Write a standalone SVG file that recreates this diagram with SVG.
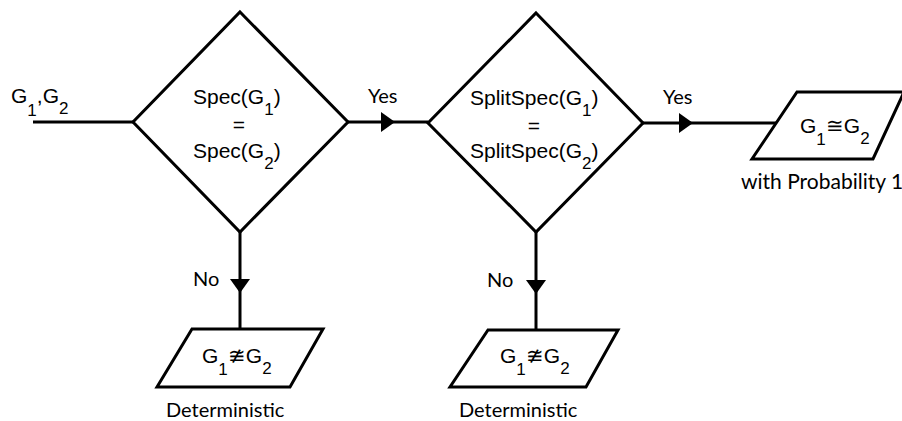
<svg xmlns="http://www.w3.org/2000/svg" width="902" height="421" viewBox="0 0 902 421">
<style>
.sh{fill:#fff;stroke:#000;stroke-width:3;stroke-linejoin:miter}
.ln{fill:none;stroke:#000;stroke-width:3}
.m{font-family:"Liberation Sans",Arial,sans-serif;font-size:21px;fill:#000}
.c{font-family:Lato,"Open Sans",sans-serif;font-size:20px;fill:#000}
.sub{font-size:17px}
</style>
<defs>
<marker id="ah" markerUnits="userSpaceOnUse" markerWidth="20" markerHeight="22" refX="13" refY="10" orient="auto">
<path d="M0,0 L14,10 L0,20 Z" fill="#000"/>
</marker>
</defs>
<g id="connectors">
<path class="ln" d="M33,122 L133,122"/>
<path class="ln" d="M348,122 L394,122 L428,122" marker-mid="url(#ah)"/>
<path class="ln" d="M643,123 L692,123 L777,123" marker-mid="url(#ah)"/>
<path class="ln" d="M240,232 L240,292 L240,329" marker-mid="url(#ah)"/>
<path class="ln" d="M536,232 L536,293 L536,330" marker-mid="url(#ah)"/>
</g>
<g id="input">
<text class="m" x="11" y="103">G<tspan class="sub" dy="13">1</tspan><tspan dy="-13">,G</tspan><tspan class="sub" dy="11">2</tspan></text>
</g>
<g id="decision1">
<polygon class="sh" points="240,12 348,122 240,232 133,122"/>
<text class="m" x="193" y="104">Spec(G<tspan class="sub" dy="11">1</tspan><tspan dy="-11">)</tspan></text>
<text class="m" x="239" y="132" text-anchor="middle">=</text>
<text class="m" x="193" y="158">Spec(G<tspan class="sub" dy="11">2</tspan><tspan dy="-11">)</tspan></text>
</g>
<g id="decision2">
<polygon class="sh" points="536,13 643,123 536,232 428,123"/>
<text class="m" x="470" y="105">SplitSpec(G<tspan class="sub" dy="11">1</tspan><tspan dy="-11">)</tspan></text>
<text class="m" x="534" y="133" text-anchor="middle">=</text>
<text class="m" x="470" y="158">SplitSpec(G<tspan class="sub" dy="11">2</tspan><tspan dy="-11">)</tspan></text>
</g>
<g id="labels">
<text class="c" x="368" y="103">Yes</text>
<text class="c" x="663" y="104">Yes</text>
<text class="c" x="193" y="286">No</text>
<text class="c" x="487" y="287">No</text>
</g>
<g id="out-iso">
<polygon class="sh" points="797,92 904,92 873,159 752,159"/>
<text class="m" x="800" y="133">G<tspan class="sub" dy="12">1</tspan><tspan dy="-12">≅G</tspan><tspan class="sub" dy="11">2</tspan></text>
<text class="c" x="741" y="189" style="font-size:21px">with Probability 1</text>
</g>
<g id="out-noniso1">
<polygon class="sh" points="192,329 323,329 290,387 157,387"/>
<text class="m" x="202" y="363">G<tspan class="sub" dy="12">1</tspan><tspan dy="-12">≇G</tspan><tspan class="sub" dy="11">2</tspan></text>
<text class="c" x="166" y="417">Deterministic</text>
</g>
<g id="out-noniso2">
<polygon class="sh" points="488,330 618,330 586,387 450,387"/>
<text class="m" x="500" y="363">G<tspan class="sub" dy="12">1</tspan><tspan dy="-12">≇G</tspan><tspan class="sub" dy="11">2</tspan></text>
<text class="c" x="459" y="417">Deterministic</text>
</g>
</svg>
